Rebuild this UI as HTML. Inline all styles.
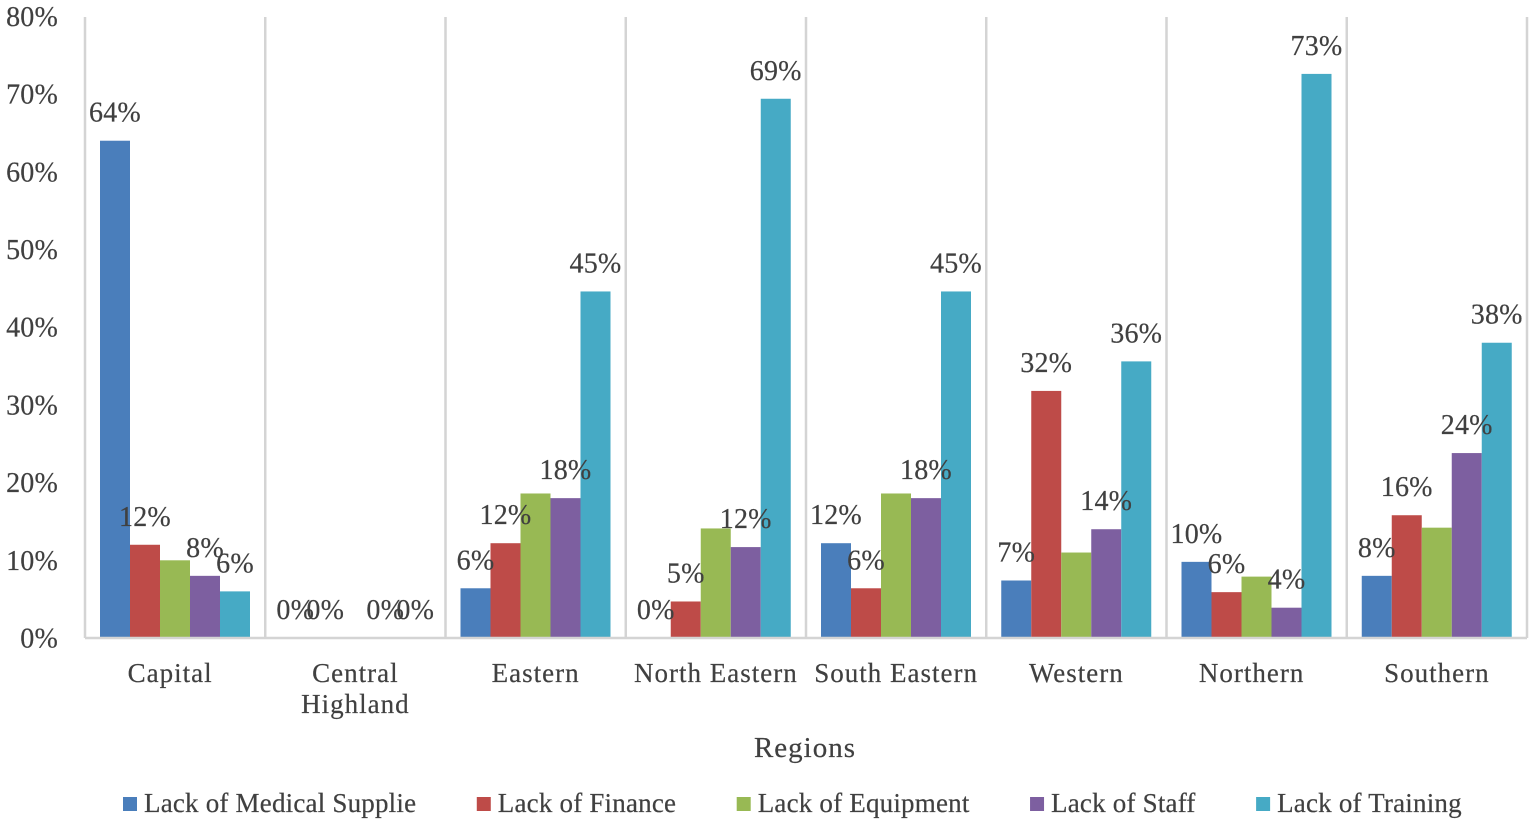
<!DOCTYPE html>
<html lang="en">
<head>
<meta charset="utf-8">
<title>Challenges by Region</title>
<style>
html,body{margin:0;padding:0;background:#fff;width:1535px;height:826px;overflow:hidden}
svg{display:block}
text{font-family:"Liberation Serif",serif;fill:#404040;stroke:#404040;stroke-width:.2px}
.val{font-size:28px;letter-spacing:.2px}
.tick{font-size:28px;letter-spacing:.2px}
.cat{font-size:27px;letter-spacing:1px}
.leg{font-size:27px;letter-spacing:.2px}
.title{font-size:29px;letter-spacing:1px}
</style>
</head>
<body>
<svg id="chart" width="1535" height="826" viewBox="0 0 1535 826" xmlns="http://www.w3.org/2000/svg"></svg>
<script>
const categories = ["Capital", "Central\nHighland", "Eastern", "North Eastern", "South Eastern", "Western", "Northern", "Southern"];
const seriesNames = ["Lack of Medical Supplie", "Lack of Finance", "Lack of Equipment", "Lack of Staff", "Lack of Training"];
const medicalSupplie = [64, 0, 6.4, 0, 12.2, 7.4, 9.8, 8];
const finance = [12, 0, 12.2, 4.7, 6.4, 31.8, 5.9, 15.8];
const equipment = [10, 0, 18.6, 14.1, 18.6, 11, 7.9, 14.2];
const staff = [8, 0, 18, 11.7, 18, 14, 3.9, 23.8];
const training = [6, 0, 44.6, 69.4, 44.6, 35.6, 72.6, 38];
const yTicks = [0, 10, 20, 30, 40, 50, 60, 70, 80];

const allSeries = [medicalSupplie, finance, equipment, staff, training];
const colors = ["#4a7ebb", "#be4b48", "#98b954", "#7d5fa0", "#46aac5"];
const seriesSlugs = ["medical-supplie", "finance", "equipment", "staff", "training"];
const labelledSeries = [true, true, false, true, true];

const svg = document.getElementById("chart");
const NS = "http://www.w3.org/2000/svg";
const plotLeft = 85, plotRight = 1527, baseY = 638, pxPerPct = 7.77, barW = 30, barInset = 15;
const catW = (plotRight - plotLeft) / categories.length;

function xBand(i) { return plotLeft + i * catW; }
function yScale(v) { return baseY - v * pxPerPct; }
function slug(s) { return s.toLowerCase().replace(/\s+/g, "-"); }

function make(tag, attrs) {
  const el = document.createElementNS(NS, tag);
  for (const k in attrs) el.setAttribute(k, attrs[k]);
  svg.appendChild(el);
  return el;
}
function makeText(str, x, y, cls, anchor) {
  const t = make("text", { x: x, y: y, class: cls, "text-anchor": anchor, "dominant-baseline": "central" });
  t.textContent = str;
  return t;
}

// separators
for (let i = 0; i <= categories.length; i++) {
  const sep = make("line", { x1: xBand(i), x2: xBand(i), y1: 17, y2: baseY, stroke: "#d4d4d4", "stroke-width": 2.5 });
  
  
}

// y ticks
yTicks.forEach(function (v) {
  const t = makeText(v + "%", 58, yScale(v) + 1, "tick", "end");
  
  
});

// bars
allSeries.forEach(function (vals, s) {
  vals.forEach(function (v, c) {
    const x = xBand(c) + barInset + s * barW;
    const r = make("rect", { x: x, y: yScale(v), width: barW, height: baseY - yScale(v), fill: colors[s] });
    
    
  });
});

// x axis line
const axis = make("line", { x1: plotLeft, x2: plotRight, y1: baseY, y2: baseY, stroke: "#d4d4d4", "stroke-width": 2.5 });



// value labels
allSeries.forEach(function (vals, s) {
  if (!labelledSeries[s]) return;
  vals.forEach(function (v, c) {
    const x = xBand(c) + barInset + s * barW + barW / 2;
    const t = makeText(Math.round(v) + "%", x, yScale(v) - 27.5, "val", "middle");
    
    
  });
});

// category labels
const labelNudge = { "Capital": -5, "Northern": -5 };
categories.forEach(function (name, i) {
  const cx = xBand(i) + catW / 2 + (labelNudge[name] || 0);
  name.split("\n").forEach(function (line, k) {
    const t = makeText(line, cx, 673 + k * 31, "cat", "middle");
    
    
  });
});

// axis title
const title = makeText("Regions", 805, 748, "title", "middle");



// legend
const legendStart = 123, legendGapAfterText = 60.5;
let legendX = legendStart;
seriesNames.forEach(function (name, s) {
  const sw = make("rect", { x: legendX, y: 797, width: 14, height: 14, fill: colors[s] });
  
  
  const t = makeText(name, legendX + 21, 803, "leg", "start");
  
  
  legendX = legendX + 21 + t.getComputedTextLength() + legendGapAfterText;
});
</script>
</body>
</html>
